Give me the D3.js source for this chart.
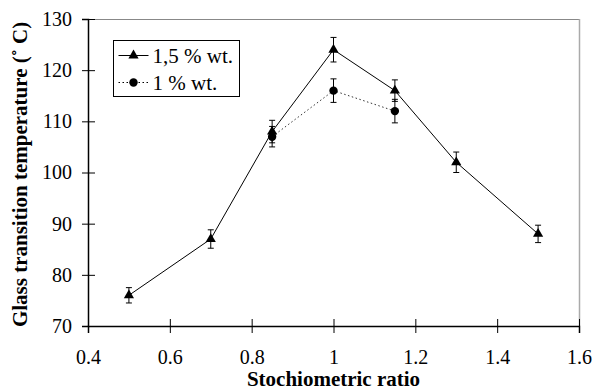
<!DOCTYPE html>
<html>
<head>
<meta charset="utf-8">
<script src="https://cdn.jsdelivr.net/npm/d3@7"></script>
<style>
  body { margin: 0; background: #fff; }
  text { font-family: "Liberation Serif", "Times New Roman", serif; fill: #000; }
</style>
</head>
<body>
<svg id="chart"></svg>
<script>
// Data
const ratios15 = [0.5, 0.7, 0.85, 1.0, 1.15, 1.3, 1.5];
const tg15 = [76, 87, 108, 124, 116, 102, 88];
const err15 = [1.5, 1.8, 2.2, 2.4, 2.1, 2.0, 1.7];

const ratios1 = [0.85, 1.0, 1.15];
const tg1 = [107, 116, 112];
const err1 = [2.0, 2.3, 2.3];

const xTicks = [0.4, 0.6, 0.8, 1, 1.2, 1.4, 1.6];
const yTicks = [70, 80, 90, 100, 110, 120, 130];
const seriesNames = ['1,5 % wt.', '1 % wt.'];

const W = 594, H = 390;
const margin = { top: 19, right: 15, bottom: 64, left: 88 };
const width = W - margin.left - margin.right;
const height = H - margin.top - margin.bottom;

const svg = d3.select('#chart')
    .attr('width', W)
    .attr('height', H);

const g = svg.append('g')
    .attr('transform', `translate(${margin.left},${margin.top})`);

const x = d3.scaleLinear().domain([0.4, 1.6]).range([0, width]);
const y = d3.scaleLinear().domain([70, 130]).range([height, 0]);

// Plot frame (top & right in grey)
g.append('line')
    .attr('x1', 0).attr('x2', width).attr('y1', 0.5).attr('y2', 0.5)
    .attr('stroke', '#888').attr('stroke-width', 1);
g.append('line')
    .attr('x1', width + 0.5).attr('x2', width + 0.5).attr('y1', 0).attr('y2', height)
    .attr('stroke', '#aaa').attr('stroke-width', 1.5);

// X axis
const xAxis = g.append('g')
    .attr('transform', `translate(0,${height})`)
    .call(d3.axisBottom(x).tickValues(xTicks).tickSize(7)
        .tickFormat(d => d === 1 ? '1' : d3.format('.1f')(d)));
xAxis.selectAll('.tick line').attr('y1', -7).attr('stroke', '#000');
xAxis.select('.domain').attr('stroke', '#000').attr('stroke-width', 1.5);
xAxis.selectAll('text')
    .attr('dy', 0).attr('y', 38)
    .style('font-size', '20px')
    .style('font-family', '"Liberation Serif", serif');

// Y axis
const yAxis = g.append('g')
    .call(d3.axisLeft(y).tickValues(yTicks).tickSize(6));
yAxis.selectAll('.tick line').attr('x2', 7).attr('x1', -6).attr('stroke', '#000');
yAxis.select('.domain').attr('stroke', '#000').attr('stroke-width', 1.5);
yAxis.selectAll('text')
    .attr('x', -16)
    .style('font-size', '20px')
    .style('font-family', '"Liberation Serif", serif');

// Axis titles
svg.append('text')
    .attr('x', margin.left + width / 2)
    .attr('y', 386)
    .attr('text-anchor', 'middle')
    .style('font-size', '21px')
    .style('font-weight', 'bold')
    .text('Stochiometric ratio');

svg.append('text')
    .attr('transform', `translate(27,${margin.top + height / 2 + 2}) rotate(-90)`)
    .attr('text-anchor', 'middle')
    .style('font-size', '21px')
    .style('font-weight', 'bold')
    .text('Glass transition temperature (\u02DA C)');

const line = d3.line().x(d => x(d[0])).y(d => y(d[1]));

const pts15 = ratios15.map((r, i) => [r, tg15[i], err15[i]]);
const pts1 = ratios1.map((r, i) => [r, tg1[i], err1[i]]);

// Lines
g.append('path').datum(pts1)
    .attr('d', line).attr('fill', 'none')
    .attr('stroke', '#333').attr('stroke-width', 1)
    .attr('stroke-dasharray', '1.5,2.5');
g.append('path').datum(pts15)
    .attr('d', line).attr('fill', 'none')
    .attr('stroke', '#000').attr('stroke-width', 1);

// Error bars
function errorBars(pts) {
  const eb = g.append('g').selectAll('g').data(pts).enter().append('g');
  eb.append('line')
      .attr('x1', d => x(d[0])).attr('x2', d => x(d[0]))
      .attr('y1', d => y(d[1] + d[2])).attr('y2', d => y(d[1] - d[2]))
      .attr('stroke', '#000');
  [1, -1].forEach(s => {
    eb.append('line')
        .attr('x1', d => x(d[0]) - 3).attr('x2', d => x(d[0]) + 3)
        .attr('y1', d => y(d[1] + s * d[2])).attr('y2', d => y(d[1] + s * d[2]))
        .attr('stroke', '#000');
  });
}
errorBars(pts1);
errorBars(pts15);

// Markers
const tri = d3.symbol().type(d3.symbolTriangle).size(45);
g.selectAll('.tri').data(pts15).enter().append('path')
    .attr('class', 'tri')
    .attr('d', tri)
    .attr('transform', d => `translate(${x(d[0])},${y(d[1])})`)
    .attr('fill', '#000');
g.selectAll('.dot').data(pts1).enter().append('circle')
    .attr('class', 'dot')
    .attr('cx', d => x(d[0])).attr('cy', d => y(d[1]))
    .attr('r', 4.2).attr('fill', '#000');

// Legend
const lg = svg.append('g').attr('transform', 'translate(113.5,40.5)');
lg.append('rect')
    .attr('width', 126).attr('height', 56)
    .attr('fill', '#fff').attr('stroke', '#000').attr('stroke-width', 1);
seriesNames.forEach((name, i) => {
  const ly = 15 + i * 27;
  lg.append('line')
      .attr('x1', 5).attr('x2', 35).attr('y1', ly).attr('y2', ly)
      .attr('stroke', '#000')
      .attr('stroke-dasharray', i === 0 ? null : '1.5,2.5');
  if (i === 0) {
    lg.append('path').attr('d', tri).attr('transform', `translate(20,${ly})`).attr('fill', '#000');
  } else {
    lg.append('circle').attr('cx', 20).attr('cy', ly).attr('r', 4.2).attr('fill', '#000');
  }
  lg.append('text')
      .attr('x', 39).attr('y', ly + 7)
      .style('font-size', '21px')
      .text(name);
});
</script>
</body>
</html>
